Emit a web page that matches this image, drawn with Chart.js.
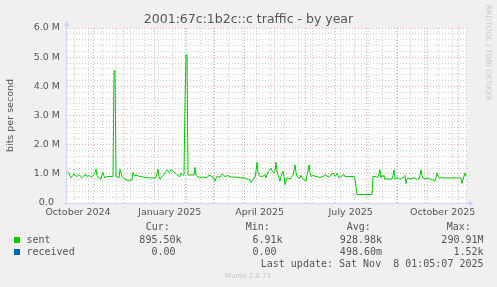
<!DOCTYPE html>
<html><head><meta charset="utf-8">
<script src="https://cdn.jsdelivr.net/npm/chart.js@4/dist/chart.umd.min.js"></script>
<style>html,body{margin:0;padding:0;background:#f0f0f0;overflow:hidden}canvas{display:block}</style>
</head><body>
<canvas id="c" width="497" height="287" style="width:497px;height:287px"></canvas>
<script>
// ---- text ----
const titleText = '2001:67c:1b2c::c traffic - by year';
const yAxisTitle = 'bits per second';
const xTickDays = [11, 102.7, 192.7, 283.7, 375.7];
const xTickLabels = ['October 2024', 'January 2025', 'April 2025', 'July 2025', 'October 2025'];
const monthStartDays = [26.7, 56.7, 87.7, 118.7, 146.7, 177.7, 207.7, 238.7, 268.7, 299.7, 330.7, 360.7, 391.7];
const yTickValues = [0, 1, 2, 3, 4, 5, 6];
const yTickLabels = ['0.0  ', '1.0 M', '2.0 M', '3.0 M', '4.0 M', '5.0 M', '6.0 M'];
const seriesNames = ['sent', 'received'];
const seriesColors = ['#00cc00', '#0066b3'];
const statHeaders = ['Cur:', 'Min:', 'Avg:', 'Max:'];
const statSent = ['895.50k', '6.91k', '928.98k', '290.91M'];
const statReceived = ['0.00 ', '0.00 ', '498.60m', '1.52k'];
const lastUpdate = 'Last update: Sat Nov  8 01:05:07 2025';
const footer = 'Munin 2.0.73';
const watermark = 'RRDTOOL / TOBI OETIKER';

// ---- daily values (Mbit/s), day 0 .. day 399 ----
const sentMbps = [
1.09,1.05,1.02,0.92,0.86,0.91,0.95,1.00,0.96,0.92,
0.91,0.95,0.97,0.93,0.91,0.86,0.90,0.95,0.96,0.97,
0.91,0.93,0.94,0.92,0.88,0.91,0.93,0.97,1.05,1.16,
0.94,0.89,0.86,0.84,0.82,0.97,1.05,0.93,0.86,0.88,
0.91,0.91,0.91,0.91,0.91,0.91,0.91,4.54,4.54,0.91,
0.91,0.88,0.86,1.16,1.03,0.92,0.88,0.84,0.81,0.80,
0.78,0.78,0.78,0.78,0.78,0.79,1.05,0.96,0.94,0.95,
0.95,0.93,0.92,0.91,0.91,0.90,0.89,0.88,0.88,0.87,
0.87,0.87,0.86,0.86,0.86,0.86,0.86,0.86,0.87,0.88,
1.02,1.16,0.90,0.82,0.86,0.91,0.93,0.97,1.03,1.09,
1.14,1.10,1.05,1.09,1.14,1.12,1.09,1.06,1.03,1.01,
0.97,0.94,0.92,0.91,1.03,0.98,0.95,0.97,3.45,5.08,
5.08,0.96,0.96,0.96,0.96,0.96,0.96,0.96,1.22,0.96,
0.92,0.90,0.88,0.88,0.88,0.88,0.89,0.88,0.88,0.86,
0.88,0.92,0.94,0.95,0.92,0.90,0.89,0.80,0.75,0.85,
0.91,0.90,0.89,0.88,0.95,1.00,0.97,0.93,0.91,0.92,
0.93,0.94,0.92,0.90,0.89,0.89,0.89,0.89,0.89,0.89,
0.88,0.88,0.87,0.87,0.86,0.86,0.86,0.86,0.86,0.84,
0.82,0.81,0.80,0.78,0.71,0.76,0.82,0.86,0.88,1.10,
1.39,1.05,0.95,0.91,0.92,0.91,0.92,0.95,0.97,0.86,
0.98,1.06,1.12,1.16,1.19,1.10,1.06,1.03,1.10,1.39,
1.10,0.97,0.85,0.75,0.91,1.00,1.09,0.90,0.63,0.75,
0.86,0.85,0.84,0.82,0.86,0.91,0.95,1.10,1.31,1.05,
0.91,0.89,0.87,0.86,0.95,0.88,0.83,0.80,0.78,0.75,
0.95,1.10,1.31,1.05,0.91,0.92,0.95,0.93,0.92,0.91,
0.90,0.90,0.89,0.88,0.89,0.90,0.91,0.93,0.95,0.97,
0.93,0.90,0.88,0.92,0.97,1.00,1.02,1.00,0.91,0.95,
1.02,0.94,0.86,0.89,0.91,0.93,0.96,0.97,0.91,0.91,
0.91,0.91,0.91,0.91,0.91,0.91,0.91,0.91,0.80,0.57,
0.29,0.29,0.29,0.29,0.29,0.29,0.29,0.29,0.29,0.29,
0.29,0.29,0.29,0.29,0.29,0.29,0.91,0.91,0.91,0.90,
0.89,0.88,1.00,1.14,0.86,0.95,0.90,0.95,0.80,0.84,
0.82,0.82,0.82,0.82,0.82,0.82,0.95,1.14,0.82,0.84,
0.86,0.86,0.84,0.82,0.84,0.86,0.86,0.90,0.95,0.67,
0.80,0.86,0.84,0.82,0.83,0.84,0.85,0.86,0.86,0.83,
0.80,0.84,0.82,0.95,1.14,0.95,0.86,0.84,0.82,0.83,
0.84,0.86,0.84,0.82,0.81,0.80,0.79,0.78,0.75,0.88,
1.03,0.92,0.86,0.86,0.86,0.86,0.86,0.86,0.86,0.86,
0.86,0.86,0.86,0.86,0.86,0.86,0.86,0.86,0.86,0.86,
0.86,0.86,0.86,0.86,0.86,0.67,0.80,0.93,1.03,0.90
];
const receivedMbps = [
0,0,0,0,0,0,0,0,0,0, 0,0,0,0,0,0,0,0,0,0, 0,0,0,0,0,0,0,0,0,0, 0,0,0,0,0,0,0,0,0,0,
0,0,0,0,0,0,0,0,0,0, 0,0,0,0,0,0,0,0,0,0, 0,0,0,0,0,0,0,0,0,0, 0,0,0,0,0,0,0,0,0,0,
0,0,0,0,0,0,0,0,0,0, 0,0,0,0,0,0,0,0,0,0, 0,0,0,0,0,0,0,0,0,0, 0,0,0,0,0,0,0,0,0,0,
0,0,0,0,0,0,0,0,0,0, 0,0,0,0,0,0,0,0,0,0, 0,0,0,0,0,0,0,0,0,0, 0,0,0,0,0,0,0,0,0,0,
0,0,0,0,0,0,0,0,0,0, 0,0,0,0,0,0,0,0,0,0, 0,0,0,0,0,0,0,0,0,0, 0,0,0,0,0,0,0,0,0,0,
0,0,0,0,0,0,0,0,0,0, 0,0,0,0,0,0,0,0,0,0, 0,0,0,0,0,0,0,0,0,0, 0,0,0,0,0,0,0,0,0,0,
0,0,0,0,0,0,0,0,0,0, 0,0,0,0,0,0,0,0,0,0, 0,0,0,0,0,0,0,0,0,0, 0,0,0,0,0,0,0,0,0,0,
0,0,0,0,0,0,0,0,0,0, 0,0,0,0,0,0,0,0,0,0, 0,0,0,0,0,0,0,0,0,0, 0,0,0,0,0,0,0,0,0,0,
0,0,0,0,0,0,0,0,0,0, 0,0,0,0,0,0,0,0,0,0, 0,0,0,0,0,0,0,0,0,0, 0,0,0,0,0,0,0,0,0,0,
0,0,0,0,0,0,0,0,0,0, 0,0,0,0,0,0,0,0,0,0, 0,0,0,0,0,0,0,0,0,0, 0,0,0,0,0,0,0,0,0,0
];

// ---- styles ----
const FONT = 'DejaVu Sans';
const MONO = 'DejaVu Sans Mono';
const textColor = '#555555';
const axisColor = '#cfd6f8';
const majorGrid = 'rgba(230,120,120,0.6)';
const minorGrid = 'rgba(190,190,190,0.7)';

// x grid/tick table
const xTickInfo = new Map();
for (let d = 7.3; d < 400; d += 14) xTickInfo.set(+d.toFixed(1), {type: 'minor'});
monthStartDays.forEach(d => xTickInfo.set(d, {type: 'major'}));
xTickDays.forEach((d, i) => xTickInfo.set(d, {type: 'label', text: xTickLabels[i]}));

const yGridValues = [];
for (let i = 0; i <= 30; i++) yGridValues.push(i / 5);

const decor = {
  id: 'decor',
  beforeDraw(chart) {
    const {ctx, chartArea: a} = chart;
    ctx.save();
    ctx.fillStyle = '#f0f0f0';
    ctx.fillRect(0, 0, chart.width, chart.height);
    ctx.fillStyle = '#ffffff';
    ctx.fillRect(a.left, a.top, a.right - a.left, a.bottom - a.top);
    ctx.restore();
  },
  afterDraw(chart) {
    const {ctx, chartArea: a} = chart;
    ctx.save();
    // title
    ctx.font = '12.5px "' + FONT + '"';
    ctx.fillStyle = textColor;
    ctx.textAlign = 'center';
    ctx.textBaseline = 'middle';
    ctx.fillText(titleText, chart.width / 2, 19.5);

    // axis extensions + arrows
    ctx.strokeStyle = axisColor; ctx.fillStyle = axisColor; ctx.lineWidth = 1;
    const ax = a.left + 0.5, ay = a.bottom + 0.5;
    ctx.beginPath();
    ctx.moveTo(ax, a.bottom + 3); ctx.lineTo(ax, a.top - 3);
    ctx.moveTo(a.left - 3, ay); ctx.lineTo(a.right + 3, ay);
    ctx.stroke();
    ctx.beginPath();
    ctx.moveTo(ax - 3, a.top - 2); ctx.lineTo(ax + 3, a.top - 2); ctx.lineTo(ax, a.top - 7); ctx.closePath(); ctx.fill();
    ctx.beginPath();
    ctx.moveTo(a.right + 2, ay - 3); ctx.lineTo(a.right + 2, ay + 3); ctx.lineTo(a.right + 7, ay); ctx.closePath(); ctx.fill();

    // legend
    ctx.font = '10px "' + MONO + '"';
    ctx.fillStyle = textColor;
    ctx.textBaseline = 'middle';
    ctx.textAlign = 'left';
    const headX = [145.7, 245.7, 346.7, 446.7];
    statHeaders.forEach((h, i) => ctx.fillText(h, headX[i], 227.5));
    const rowY = [240, 252];
    const rows = [statSent, statReceived];
    const colEnd = [181.5, 282.5, 382, 483.5];
    seriesNames.forEach((n, r) => {
      ctx.fillStyle = seriesColors[r];
      ctx.fillRect(14, rowY[r] - 3, 6, 6);
      ctx.fillStyle = textColor;
      ctx.textAlign = 'left';
      ctx.fillText(n, 26.5, rowY[r]);
      ctx.textAlign = 'right';
      rows[r].forEach((v, i) => ctx.fillText(v, colEnd[i], rowY[r]));
    });
    ctx.textAlign = 'right';
    ctx.fillText(lastUpdate, 483.5, 264);

    ctx.font = '7px "' + FONT + '"';
    ctx.fillStyle = '#c4c4c4';
    ctx.textAlign = 'center';
    ctx.fillText(footer, 248, 276.5);

    ctx.translate(488, 53);
    ctx.rotate(Math.PI / 2);
    ctx.font = '7.5px "' + FONT + '"';
    ctx.fillStyle = '#c8c8c8';
    ctx.fillText(watermark, 0, 0);
    ctx.restore();
  }
};

new Chart(document.getElementById('c'), {
  type: 'line',
  data: {
    datasets: [
      {
        label: seriesNames[0],
        data: sentMbps.map((v, i) => ({x: i, y: v})),
        borderColor: seriesColors[0],
        borderWidth: 1,
        pointRadius: 0,
        tension: 0,
        fill: false
      },
      {
        label: seriesNames[1],
        data: receivedMbps.map((v, i) => ({x: i, y: v})),
        borderColor: seriesColors[1],
        borderWidth: 1,
        pointRadius: 0,
        tension: 0,
        fill: false,
        clip: {left: 5, top: 5, right: 5, bottom: -1}
      }
    ]
  },
  options: {
    responsive: false,
    animation: false,
    devicePixelRatio: 1,
    layout: {padding: {left: 0, right: 30, top: 28, bottom: 0}},
    plugins: {
      legend: {display: false},
      tooltip: {enabled: false},
      title: {display: false}
    },
    scales: {
      x: {
        type: 'linear',
        min: -1,
        max: 400,
        afterFit(s) { s.height = 84; },
        afterBuildTicks(s) { s.ticks = [...xTickInfo.keys()].sort((a, b) => a - b).map(v => ({value: v})); },
        ticks: {
          autoSkip: false,
          maxRotation: 0,
          padding: 3.6,
          color: textColor,
          font: {family: FONT, size: 9.5},
          callback: (v) => { const t = xTickInfo.get(v); return t && t.type === 'label' ? t.text : ''; }
        },
        grid: {
          drawTicks: false,
          lineWidth: 1,
          color: (c) => {
            const t = c.tick ? xTickInfo.get(c.tick.value) : null;
            if (!t) return 'rgba(0,0,0,0)';
            return t.type === 'major' ? majorGrid : t.type === 'minor' ? minorGrid : 'rgba(0,0,0,0)';
          }
        },
        border: {display: true, color: axisColor, width: 1, dash: [1, 2]}
      },
      y: {
        type: 'linear',
        min: 0,
        max: 6,
        afterFit(s) { s.width = 66; },
        afterBuildTicks(s) { s.ticks = yGridValues.map(v => ({value: v})); },
        ticks: {
          autoSkip: false,
          padding: 6,
          color: textColor,
          font: {family: FONT, size: 9.5},
          callback: (v) => { const i = yTickValues.findIndex(t => Math.abs(t - v) < 1e-6); return i >= 0 ? yTickLabels[i] : ''; }
        },
        grid: {
          drawTicks: false,
          lineWidth: 1,
          color: (c) => {
            if (!c.tick) return minorGrid;
            const k = Math.round(c.tick.value * 5);
            return k % 5 === 0 ? majorGrid : minorGrid;
          }
        },
        border: {display: true, color: axisColor, width: 1, dash: [1, 2]},
        title: {
          display: true,
          text: yAxisTitle,
          color: textColor,
          font: {family: FONT, size: 9.5},
          padding: {top: 5, bottom: 0}
        }
      }
    }
  },
  plugins: [decor]
});
</script>
</body></html>
